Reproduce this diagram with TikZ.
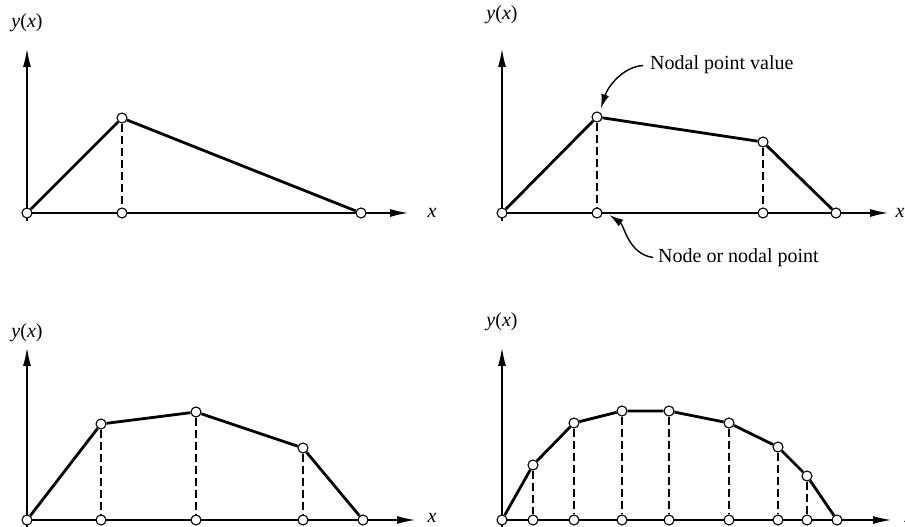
\documentclass[tikz,border=0pt]{standalone}
\usepackage{fontspec}
\setmainfont{Liberation Serif}
\usetikzlibrary{arrows.meta,backgrounds}

\begin{document}
\begin{tikzpicture}[
  x=1pt,y=1pt,
  font=\fontsize{20}{24}\selectfont,
  >={Latex[length=18pt,width=8pt]},
  pt/.style={draw,circle,fill=white,inner sep=0pt,minimum size=10pt,line width=1.1pt},
  axis/.style={->,line width=1.2pt},
  curve/.style={line width=2.8pt},
  drop/.style={line width=1.1pt,dash pattern=on 8pt off 4pt},
  lab/.style={anchor=base,inner sep=0pt},
  callout/.style={-{Latex[length=14pt,width=8pt]},line width=1.4pt},
]
\useasboundingbox (0,0) rectangle (905,527);
% ---- (a) two elements, top left ----
\node[pt] (a0) at (27,314) {};
\node[pt] (a1) at (122,409) {};
\node[pt] (a1g) at (122,314) {};
\node[pt] (a2) at (361,314) {};
\coordinate (aYb) at (27,306);
\coordinate (aYt) at (27,478);
\coordinate (aXt) at (408,314);
\node[lab] (aYlab) at (27,499) {\textit{y}(\textit{x})};
\node[lab] (aXlab) at (432,309) {\textit{x}};
\begin{scope}[on background layer]
\draw[axis] (aYb) -- (aYt);
\draw[axis] (a0.center) -- (aXt);
\draw[drop] (a1) -- (a1g);
\end{scope}
\draw[curve] (a0) -- (a1) -- (a2);
% ---- (b) three elements, top right, with callouts ----
\node[pt] (b0) at (502,314) {};
\node[pt] (b1) at (597,410) {};
\node[pt] (b2) at (763,385) {};
\node[pt] (b3) at (836,314) {};
\node[pt] (b1g) at (597,314) {};
\node[pt] (b2g) at (763,314) {};
\coordinate (bYb) at (502,306);
\coordinate (bYt) at (502,478);
\coordinate (bXt) at (888,314);
\node[lab] (bYlab) at (502,507) {\textit{y}(\textit{x})};
\node[lab] (bXlab) at (900,309) {\textit{x}};
\begin{scope}[on background layer]
\draw[axis] (bYb) -- (bYt);
\draw[axis] (b0.center) -- (bXt);
\draw[drop] (b1) -- (b1g);
\draw[drop] (b2) -- (b2g);
\end{scope}
\draw[curve] (b0) -- (b1) -- (b2) -- (b3);
\node[anchor=base west,inner sep=0pt] (val) at (650,457) {Nodal point value};
\node[anchor=base west,inner sep=0pt] (nod) at (658,264) {Node or nodal point};
\draw[callout,shorten <=7pt,shorten >=4pt] (val.west) to[out=183,in=72] (b1.62);
\draw[callout,shorten <=5pt,shorten >=12pt] (nod.west) to[out=172,in=-35] (b1g.62);
% ---- (c) four elements, bottom left ----
\node[pt] (c0) at (27,7) {};
\node[pt] (c1) at (101,103) {};
\node[pt] (c2) at (196,115) {};
\node[pt] (c3) at (303,79) {};
\node[pt] (c4) at (363,7) {};
\node[pt] (c1g) at (101,7) {};
\node[pt] (c2g) at (196,7) {};
\node[pt] (c3g) at (303,7) {};
\coordinate (cYb) at (27,0);
\coordinate (cYt) at (27,179);
\coordinate (cXt) at (415,7);
\node[lab] (cYlab) at (27,189) {\textit{y}(\textit{x})};
\node[lab] (cXlab) at (432,4) {\textit{x}};
\begin{scope}[on background layer]
\draw[axis] (cYb) -- (cYt);
\draw[axis] (c0.center) -- (cXt);
\draw[drop] (c1) -- (c1g);
\draw[drop] (c2) -- (c2g);
\draw[drop] (c3) -- (c3g);
\end{scope}
\draw[curve] (c0) -- (c1) -- (c2) -- (c3) -- (c4);
% ---- (d) eight elements, bottom right ----
\node[pt] (d0) at (502,7) {};
\node[pt] (d1) at (533,62) {};
\node[pt] (d2) at (574,104) {};
\node[pt] (d3) at (622,116) {};
\node[pt] (d4) at (669,116) {};
\node[pt] (d5) at (729,104) {};
\node[pt] (d6) at (778,80) {};
\node[pt] (d7) at (807,51) {};
\node[pt] (d8) at (837,7) {};
\coordinate (dYb) at (502,0);
\coordinate (dYt) at (502,179);
\coordinate (dXt) at (891,7);
\node[lab] (dYlab) at (502,200) {\textit{y}(\textit{x})};
\node[lab] (dXlab) at (909,4) {\textit{x}};
\foreach \i/\xx in {1/533,2/574,3/622,4/669,5/729,6/778,7/807}
  \node[pt] (d\i g) at (\xx,7) {};
\begin{scope}[on background layer]
\draw[axis] (dYb) -- (dYt);
\draw[axis] (d0.center) -- (dXt);
\foreach \i in {1,...,7}
  \draw[drop] (d\i) -- (d\i g);
\end{scope}
\draw[curve] (d0) -- (d1) -- (d2) -- (d3) -- (d4) -- (d5) -- (d6) -- (d7) -- (d8);
\end{tikzpicture}
\end{document}
